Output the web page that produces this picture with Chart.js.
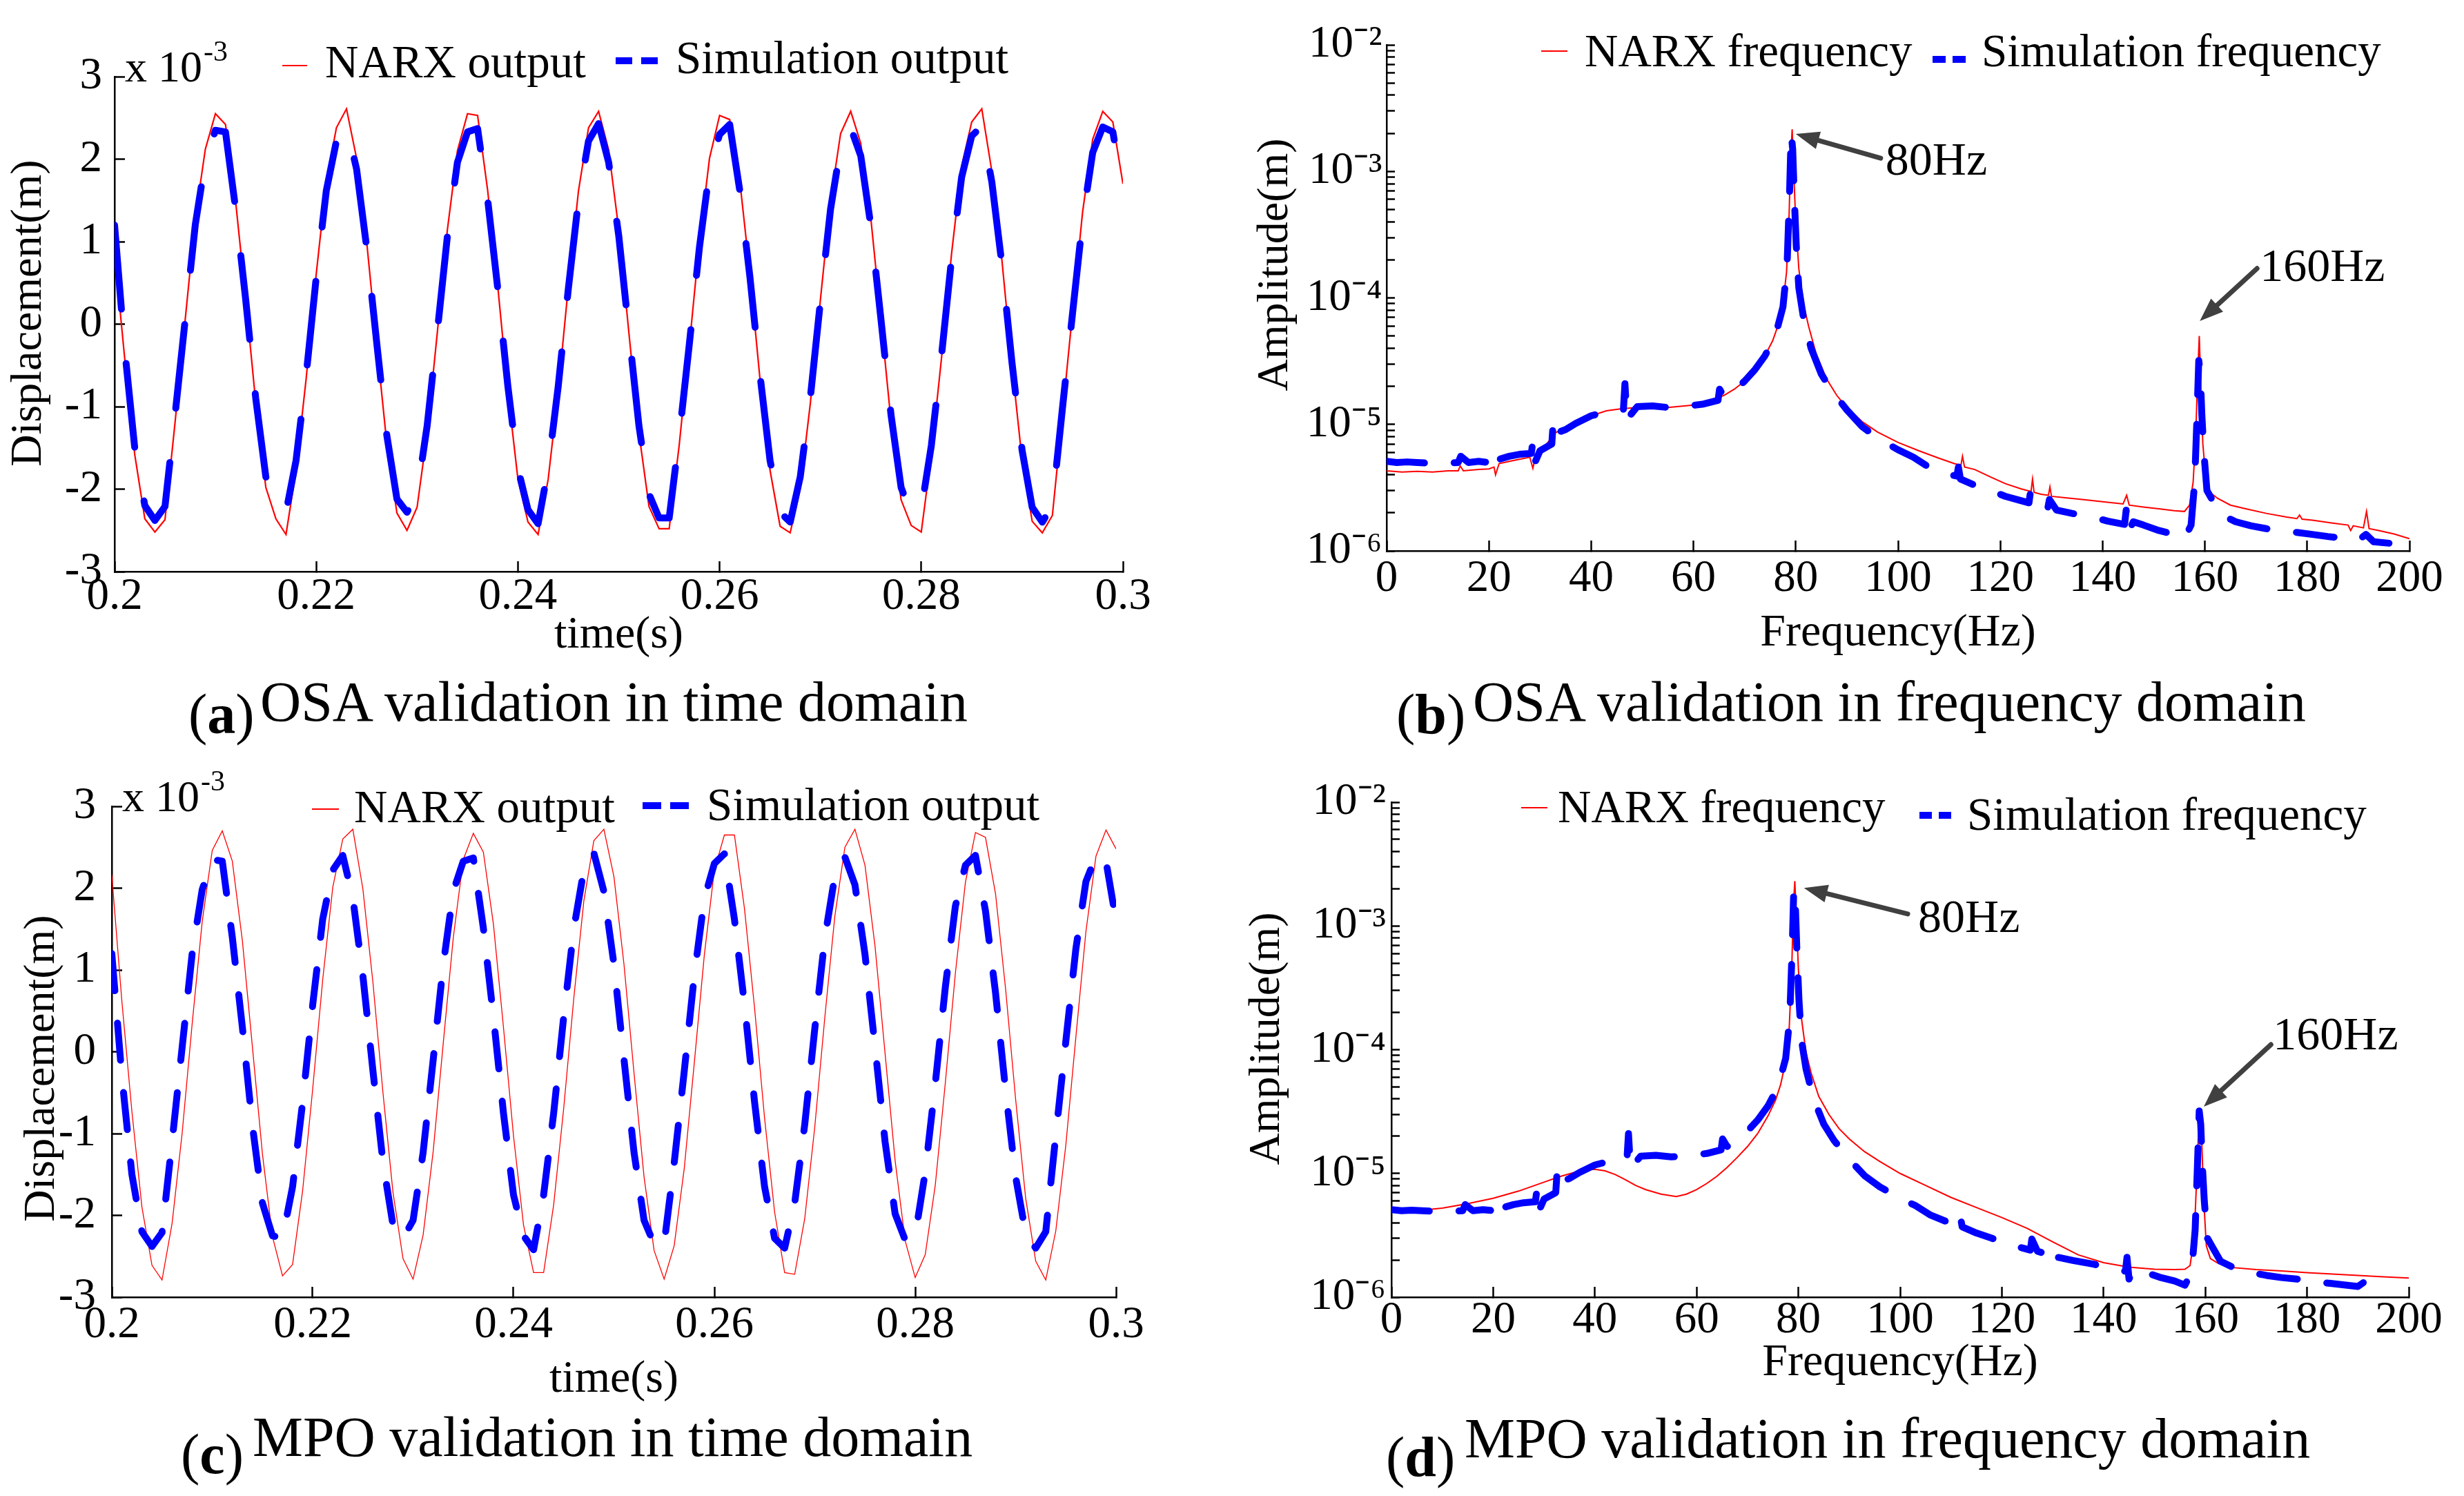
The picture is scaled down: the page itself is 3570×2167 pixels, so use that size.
<!DOCTYPE html>
<html lang="en">
<head>
<meta charset="utf-8">
<title>NARX model validation</title>
<script src="https://cdn.jsdelivr.net/npm/chart.js@4.4.1/dist/chart.umd.min.js"></script>
<style>
  html, body { margin: 0; padding: 0; background: #ffffff; }
  body { position: relative; width: 3570px; height: 2167px; overflow: hidden;
         font-family: "Liberation Serif", "Times New Roman", serif; color: #000; }
  canvas { position: absolute; }
  .cap { position: absolute; font-size: 82px; line-height: 82px; white-space: nowrap; }
</style>
</head>
<body>
<canvas id="chart-a" width="1785" height="980" style="left:0px;top:0px"></canvas>
<canvas id="chart-b" width="1785" height="980" style="left:1785px;top:0px"></canvas>
<canvas id="chart-c" width="1785" height="960" style="left:0px;top:1083px"></canvas>
<canvas id="chart-d" width="1785" height="960" style="left:1785px;top:1083px"></canvas>

<div class="cap" style="left:273px;top:994px">(<b>a</b>)</div>
<div class="cap" style="left:377px;top:976px">OSA validation in time domain</div>
<div class="cap" style="left:2023px;top:994px">(<b>b</b>)</div>
<div class="cap" style="left:2134px;top:976px">OSA validation in frequency domain</div>
<div class="cap" style="left:262px;top:2066px">(<b>c</b>)</div>
<div class="cap" style="left:366px;top:2041px">MPO validation in time domain</div>
<div class="cap" style="left:2008px;top:2070px">(<b>d</b>)</div>
<div class="cap" style="left:2122px;top:2043px">MPO validation in frequency domain</div>

<script>
// sample instants (s), one every millisecond
const sampleTimes = [
  0.200, 0.201, 0.202, 0.203, 0.204, 0.205, 0.206, 0.207, 0.208, 0.209,
  0.210, 0.211, 0.212, 0.213, 0.214, 0.215, 0.216, 0.217, 0.218, 0.219,
  0.220, 0.221, 0.222, 0.223, 0.224, 0.225, 0.226, 0.227, 0.228, 0.229,
  0.230, 0.231, 0.232, 0.233, 0.234, 0.235, 0.236, 0.237, 0.238, 0.239,
  0.240, 0.241, 0.242, 0.243, 0.244, 0.245, 0.246, 0.247, 0.248, 0.249,
  0.250, 0.251, 0.252, 0.253, 0.254, 0.255, 0.256, 0.257, 0.258, 0.259,
  0.260, 0.261, 0.262, 0.263, 0.264, 0.265, 0.266, 0.267, 0.268, 0.269,
  0.270, 0.271, 0.272, 0.273, 0.274, 0.275, 0.276, 0.277, 0.278, 0.279,
  0.280, 0.281, 0.282, 0.283, 0.284, 0.285, 0.286, 0.287, 0.288, 0.289,
  0.290, 0.291, 0.292, 0.293, 0.294, 0.295, 0.296, 0.297, 0.298, 0.299,
  0.300
];

// displacements, in units of 1e-3 m
const narxOsaOutput = [
  0.86, -0.41, -1.58, -2.36, -2.52, -2.37, -1.19, 0.05, 1.28, 2.12,
  2.55, 2.42, 1.49, 0.31, -0.95, -1.98, -2.36, -2.55, -1.77, -0.66,
  0.61, 1.73, 2.38, 2.61, 2.01, 1.00, -0.25, -1.45, -2.29, -2.50,
  -2.22, -1.32, -0.11, 1.14, 2.10, 2.55, 2.53, 1.62, 0.46, -0.81,
  -1.88, -2.40, -2.55, -1.88, -0.81, 0.46, 1.61, 2.38, 2.58, 2.11,
  1.15, -0.10, -1.32, -2.21, -2.48, -2.48, -1.46, -0.26, 1.00, 2.01,
  2.53, 2.48, 1.74, 0.62, -0.66, -1.77, -2.45, -2.53, -1.99, -0.96,
  0.30, 1.49, 2.31, 2.58, 2.19, 1.28, 0.06, -1.18, -2.13, -2.44,
  -2.52, -1.58, -0.42, 0.85, 1.91, 2.45, 2.61, 1.85, 0.77, -0.50,
  -1.65, -2.39, -2.53, -2.32, -1.10, 0.14, 1.36, 2.24, 2.58, 2.45,
  1.70
];
const narxMpoOutput = [
  2.16, 0.62, -0.73, -1.90, -2.61, -2.79, -2.10, -1.00, 0.34, 1.59,
  2.46, 2.70, 2.33, 1.36, 0.06, -1.25, -2.26, -2.74, -2.60, -1.70,
  -0.46, 0.88, 2.01, 2.60, 2.72, 1.99, 0.85, -0.50, -1.72, -2.53,
  -2.78, -2.24, -1.22, 0.10, 1.39, 2.35, 2.67, 2.44, 1.56, 0.30,
  -1.03, -2.12, -2.70, -2.70, -1.87, -0.69, 0.65, 1.84, 2.58, 2.72,
  2.14, 1.07, -0.26, -1.53, -2.43, -2.78, -2.37, -1.43, -0.14, 1.18,
  2.22, 2.65, 2.65, 1.75, 0.54, -0.81, -1.96, -2.70, -2.72, -2.04,
  -0.92, 0.42, 1.66, 2.50, 2.72, 2.28, 1.29, -0.02, -1.33, -2.31,
  -2.76, -2.48, -1.63, -0.38, 0.96, 2.07, 2.68, 2.62, 1.93, 0.77,
  -0.58, -1.79, -2.56, -2.79, -2.19, -1.14, 0.18, 1.47, 2.39, 2.71,
  2.48
];
const simulationOutput = [
  1.20, -0.30, -1.50, -2.20, -2.38, -2.21, -1.10, 0.05, 1.20, 1.98,
  2.35, 2.33, 1.40, 0.30, -0.90, -1.85, -2.25, -2.28, -1.65, -0.62,
  0.57, 1.62, 2.22, 2.40, 1.88, 0.93, -0.23, -1.35, -2.12, -2.28,
  -2.06, -1.23, -0.10, 1.06, 1.96, 2.33, 2.37, 1.51, 0.43, -0.75,
  -1.75, -2.25, -2.42, -1.75, -0.75, 0.43, 1.50, 2.22, 2.43, 1.96,
  1.07, -0.09, -1.23, -2.06, -2.35, -2.35, -1.36, -0.24, 0.93, 1.87,
  2.30, 2.42, 1.62, 0.58, -0.61, -1.65, -2.28, -2.40, -1.85, -0.89,
  0.28, 1.39, 2.15, 2.38, 2.04, 1.19, 0.06, -1.10, -1.98, -2.30,
  -2.25, -1.47, -0.39, 0.79, 1.78, 2.28, 2.40, 1.72, 0.72, -0.47,
  -1.53, -2.22, -2.40, -2.20, -1.02, 0.13, 1.26, 2.08, 2.39, 2.33,
  1.60
];

// spectra: frequency (Hz) and amplitude (m)
const simFreqHz = [
  0, 2, 4, 6, 8, 10, 12, 14, 14.5, 16, 18, 20, 21, 21.5, 22, 24, 26, 28.3, 28.6, 29,
  30, 32.3, 32.6, 33, 35, 37, 40, 43, 46.3, 46.6, 47, 49, 52, 55, 58, 62, 64.8, 65.1, 66, 68,
  70, 72, 74, 76, 77.5, 78.3, 78.8, 79.1, 79.4, 79.7, 80.1, 80.6, 81.5, 83, 85, 87, 90, 93, 96, 100,
  103, 106, 109, 111.5, 111.8, 112.2, 115, 118, 121, 124, 125.6, 125.9, 127, 129.3, 129.6, 131, 134, 138, 141, 144.3,
  144.6, 145, 146, 148, 151, 154, 156, 157.3, 158, 158.4, 158.8, 159.1, 159.4, 159.8, 160.4, 161.5, 163, 166, 169, 172,
  175, 178, 181, 184, 187, 190, 191.5, 193, 196
];
const simFreqAmp = [
  5.1e-6, 5.0e-6, 5.05e-6, 5.0e-6, 4.95e-6, 4.9e-6, 4.95e-6, 5.0e-6, 5.6e-6, 5.0e-6,
  5.1e-6, 5.0e-6, 5.6e-6, 4.7e-6, 5.3e-6, 5.6e-6, 5.8e-6, 5.9e-6, 7.4e-6, 5.0e-6,
  6.2e-6, 7.0e-6, 1.08e-5, 8.5e-6, 9.1e-6, 1.02e-5, 1.17e-5, 1.26e-5, 1.3e-5, 2.1e-5,
  1.1e-5, 1.38e-5, 1.4e-5, 1.36e-5, 1.38e-5, 1.45e-5, 1.55e-5, 1.9e-5, 1.65e-5, 1.85e-5,
  2.2e-5, 2.7e-5, 3.5e-5, 5.0e-5, 8.5e-5, 1.8e-4, 7.0e-4, 2.0e-3, 1.5e-3, 6.5e-4,
  2.6e-4, 1.2e-4, 7.0e-5, 4.0e-5, 2.5e-5, 1.85e-5, 1.3e-5, 9.6e-6, 7.8e-6, 6.3e-6,
  5.5e-6, 4.6e-6, 4.1e-6, 3.9e-6, 4.6e-6, 3.7e-6, 3.3e-6, 3.0e-6, 2.7e-6, 2.5e-6,
  2.4e-6, 2.95e-6, 2.35e-6, 2.2e-6, 2.55e-6, 2.1e-6, 1.98e-6, 1.85e-6, 1.72e-6, 1.62e-6,
  2.1e-6, 1.4e-6, 1.7e-6, 1.6e-6, 1.45e-6, 1.35e-6, 1.25e-6, 1.6e-6, 3.5e-6, 1.0e-5,
  3.2e-5, 2.5e-5, 1.2e-5, 6.0e-6, 3.0e-6, 2.5e-6, 1.95e-6, 1.7e-6, 1.58e-6, 1.5e-6,
  1.44e-6, 1.4e-6, 1.35e-6, 1.3e-6, 1.26e-6, 1.22e-6, 1.35e-6, 1.18e-6, 1.15e-6
];
const narxOsaFreqHz = [
  0, 3, 6, 9, 12, 14, 14.4, 15, 18, 20, 21, 21.3, 22, 24, 26, 28, 28.6, 29.2, 30, 31,
  32, 33, 35, 37, 40, 43, 46, 50, 55, 60, 63, 66, 68, 70, 72, 74, 75.5, 76.5, 77.5, 78.2,
  78.7, 79.0, 79.3, 79.6, 80.0, 80.6, 81.5, 82.5, 84, 86, 88, 90, 93, 96, 100, 104, 108, 111, 112.3, 112.6,
  113, 115, 118, 121, 124, 126, 126.3, 126.6, 128, 129.4, 129.7, 130, 133, 136, 140, 144, 144.7, 145.2, 148, 151,
  154, 156, 157, 157.7, 158.2, 158.6, 158.9, 159.2, 159.6, 160.2, 161, 162.5, 165, 168, 172, 176, 178, 178.5, 179, 181,
  185, 188, 188.5, 189, 191, 191.6, 192.1, 194, 197, 200
];
const narxOsaFreqAmp = [
  4.3e-6, 4.2e-6, 4.25e-6, 4.2e-6, 4.3e-6, 4.3e-6, 4.7e-6, 4.3e-6, 4.4e-6, 4.45e-6,
  4.6e-6, 4.0e-6, 4.9e-6, 5.1e-6, 5.3e-6, 5.5e-6, 4.5e-6, 5.8e-6, 6.4e-6, 6.8e-6,
  7.6e-6, 8.6e-6, 9.4e-6, 1.03e-5, 1.17e-5, 1.28e-5, 1.33e-5, 1.37e-5, 1.36e-5, 1.42e-5,
  1.52e-5, 1.7e-5, 1.9e-5, 2.2e-5, 2.7e-5, 3.5e-5, 4.6e-5, 6.0e-5, 9.0e-5, 1.6e-4,
  4.5e-4, 1.3e-3, 2.15e-3, 1.0e-3, 4.0e-4, 1.7e-4, 9.0e-5, 6.0e-5, 3.6e-5, 2.3e-5,
  1.7e-5, 1.35e-5, 1.05e-5, 8.7e-6, 7.2e-6, 6.2e-6, 5.4e-6, 4.9e-6, 4.75e-6, 5.6e-6,
  4.6e-6, 4.4e-6, 3.85e-6, 3.4e-6, 3.1e-6, 2.95e-6, 3.7e-6, 2.9e-6, 2.8e-6, 2.75e-6,
  3.2e-6, 2.7e-6, 2.62e-6, 2.55e-6, 2.45e-6, 2.35e-6, 2.75e-6, 2.3e-6, 2.22e-6, 2.15e-6,
  2.08e-6, 2.05e-6, 2.3e-6, 3.5e-6, 8.0e-6, 2.5e-5, 5.0e-5, 2.0e-5, 7.0e-6, 3.6e-6,
  2.9e-6, 2.6e-6, 2.3e-6, 2.15e-6, 1.98e-6, 1.85e-6, 1.8e-6, 1.92e-6, 1.78e-6, 1.75e-6,
  1.66e-6, 1.6e-6, 1.45e-6, 1.58e-6, 1.52e-6, 2.05e-6, 1.5e-6, 1.45e-6, 1.36e-6, 1.25e-6
];
const narxMpoFreqHz = [
  0, 5, 10, 15, 20, 25, 30, 33, 36, 38, 40, 42, 44, 46, 48, 50, 53, 56, 58, 60,
  62, 64, 66, 68, 70, 72, 74, 75.5, 76.5, 77.5, 78.2, 78.7, 79.0, 79.3, 79.6, 80.0, 80.6, 81.5, 82.5, 84,
  86, 88, 90, 93, 96, 100, 105, 110, 115, 120, 125, 130, 135, 140, 145, 150, 154, 156, 157, 157.8,
  158.3, 158.7, 159.0, 159.3, 159.7, 160.2, 161, 162.5, 165, 170, 175, 180, 185, 190, 195, 200
];
const narxMpoFreqAmp = [
  4.9e-6, 5.0e-6, 5.25e-6, 5.7e-6, 6.3e-6, 7.2e-6, 8.5e-6, 9.4e-6, 1.02e-5, 1.07e-5,
  1.08e-5, 1.05e-5, 9.8e-6, 8.9e-6, 8.0e-6, 7.4e-6, 6.8e-6, 6.5e-6, 6.8e-6, 7.4e-6,
  8.3e-6, 9.5e-6, 1.12e-5, 1.35e-5, 1.65e-5, 2.1e-5, 2.9e-5, 3.9e-5, 5.2e-5, 8.0e-5,
  1.5e-4, 4.5e-4, 1.4e-3, 2.3e-3, 1.2e-3, 4.5e-4, 1.8e-4, 9.5e-5, 6.5e-5, 4.2e-5,
  3.0e-5, 2.3e-5, 1.9e-5, 1.5e-5, 1.25e-5, 1.0e-5, 8.0e-6, 6.4e-6, 5.3e-6, 4.4e-6,
  3.6e-6, 2.8e-6, 2.2e-6, 1.9e-6, 1.75e-6, 1.68e-6, 1.67e-6, 1.68e-6, 1.8e-6, 3.0e-6,
  9.0e-6, 2.4e-5, 3.2e-5, 1.8e-5, 6.0e-6, 2.6e-6, 2.05e-6, 1.88e-6, 1.74e-6, 1.67e-6,
  1.63e-6, 1.58e-6, 1.54e-6, 1.5e-6, 1.46e-6, 1.43e-6
];

// axis ticks
const timeTicks = [0.2, 0.22, 0.24, 0.26, 0.28, 0.3];
const dispTicks = [-3, -2, -1, 0, 1, 2, 3];
const freqTicks = [0, 20, 40, 60, 80, 100, 120, 140, 160, 180, 200];
const ampDecades = [1e-6, 1e-5, 1e-4, 1e-3, 1e-2];
const ampDecadeLabels = ['10\u207B\u2076', '10\u207B\u2075', '10\u207B\u2074', '10\u207B\u00B3', '10\u207B\u00B2'];

const SERIF = '"Liberation Serif", "Times New Roman", serif';
const RED = '#ff0000';
const BLUE = '#0000ff';

const toPoints = (xs, ys) => xs.map((x, i) => ({ x: x, y: ys[i] }));

// decade marks plus the 2..9 marks between them
function ampTicks() {
  const out = [];
  ampDecades.forEach((d, i) => {
    out.push({ value: d });
    if (i < ampDecades.length - 1) {
      for (let m = 2; m <= 9; m++) out.push({ value: d * m });
    }
  });
  return out;
}

function ampLabel(v) {
  const i = ampDecades.findIndex(d => Math.abs(v / d - 1) < 1e-6);
  return i < 0 ? '' : ampDecadeLabels[i];
}

function drawArrow(ctx, x0, y0, x1, y1) {
  const ang = Math.atan2(y1 - y0, x1 - x0);
  const head = 34, half = 13;
  const bx = x1 - head * Math.cos(ang), by = y1 - head * Math.sin(ang);
  ctx.strokeStyle = '#404040';
  ctx.fillStyle = '#404040';
  ctx.lineWidth = 7;
  ctx.lineCap = 'round';
  ctx.beginPath();
  ctx.moveTo(x0, y0);
  ctx.lineTo(bx, by);
  ctx.stroke();
  ctx.beginPath();
  ctx.moveTo(x1, y1);
  ctx.lineTo(bx + half * Math.sin(ang), by - half * Math.cos(ang));
  ctx.lineTo(bx - half * Math.sin(ang), by + half * Math.cos(ang));
  ctx.closePath();
  ctx.fill();
}

// legend lines, the "x 10^-3" multiplier and the peak arrows
function decor(spec) {
  return {
    id: 'decor',
    afterDraw(chart) {
      const ctx = chart.ctx;
      const area = chart.chartArea;
      ctx.save();
      spec.legend.forEach(item => {
        const ds = chart.data.datasets[item.dataset];
        ctx.beginPath();
        ctx.strokeStyle = ds.borderColor;
        ctx.lineWidth = Math.max(ds.borderWidth, 2);
        ctx.lineCap = 'butt';
        ctx.setLineDash(item.dash || []);
        ctx.moveTo(item.x0, item.y);
        ctx.lineTo(item.x1, item.y);
        ctx.stroke();
        ctx.setLineDash([]);
        ctx.fillStyle = '#000';
        ctx.font = '67px ' + SERIF;
        ctx.textAlign = 'left';
        ctx.textBaseline = 'alphabetic';
        ctx.fillText(ds.label, item.tx, item.ty);
      });
      if (spec.multiplier) {
        const x = area.left + 15, y = area.top + 7;
        ctx.fillStyle = '#000';
        ctx.textAlign = 'left';
        ctx.textBaseline = 'alphabetic';
        ctx.font = '64px ' + SERIF;
        ctx.fillText('x 10', x, y);
        const w = ctx.measureText('x 10').width;
        ctx.font = '42px ' + SERIF;
        ctx.fillText(spec.multiplier, x + w + 2, y - 30);
      }
      (spec.arrows || []).forEach(a => {
        const xs = chart.scales.x, ys = chart.scales.y;
        const tipX = xs.getPixelForValue(a.tip[0]), tipY = ys.getPixelForValue(a.tip[1]);
        const tailX = xs.getPixelForValue(a.tail[0]), tailY = ys.getPixelForValue(a.tail[1]);
        drawArrow(ctx, tailX, tailY, tipX, tipY);
        ctx.fillStyle = '#000';
        ctx.textAlign = 'left';
        ctx.textBaseline = 'alphabetic';
        ctx.font = '68px ' + SERIF;
        ctx.fillText(a.text, tailX + a.dx, tailY + a.dy);
      });
      ctx.restore();
    }
  };
}

function buildChart(id, kind, datasets, spec) {
  const isTime = kind === 'time';
  const yAxis = isTime ? {
    type: 'linear',
    min: -3,
    max: 3,
    afterBuildTicks: s => { s.ticks = dispTicks.map(v => ({ value: v })); },
    ticks: { callback: v => String(v) }
  } : {
    type: 'logarithmic',
    min: 1e-6,
    max: 1e-2,
    afterBuildTicks: s => { s.ticks = ampTicks(); },
    ticks: { callback: v => ampLabel(v) }
  };
  const yTick = isTime ? -15 : -12;
  Object.assign(yAxis, {
    afterFit: s => { s.width = spec.yWidth; },
    grid: { drawOnChartArea: false, drawTicks: true, tickLength: yTick, tickWidth: 2.5, tickColor: '#000' },
    border: { display: true, color: '#000', width: 2.5 },
    title: {
      display: true,
      text: spec.yTitle,
      color: '#000',
      font: { family: SERIF, size: 64 },
      padding: { top: spec.yTitlePad, bottom: 0 }
    }
  });
  Object.assign(yAxis.ticks, {
    autoSkip: false,
    padding: spec.yPad,
    color: '#000',
    font: { family: SERIF, size: 65 }
  });

  return new Chart(document.getElementById(id), {
    type: 'line',
    data: { datasets: datasets },
    options: {
      responsive: false,
      animation: false,
      devicePixelRatio: 1,
      events: [],
      layout: { padding: { left: 0, top: spec.top, right: spec.right, bottom: 0 } },
      elements: { point: { radius: 0 }, line: { tension: 0 } },
      plugins: { legend: { display: false }, tooltip: { enabled: false } },
      scales: {
        x: {
          type: 'linear',
          min: isTime ? 0.2 : 0,
          max: isTime ? 0.3 : 200,
          afterBuildTicks: s => { s.ticks = (isTime ? timeTicks : freqTicks).map(v => ({ value: v })); },
          afterFit: s => { s.height = spec.xHeight; },
          grid: { drawOnChartArea: false, drawTicks: true, tickLength: -15, tickWidth: 2.5, tickColor: '#000' },
          border: { display: true, color: '#000', width: 2.5 },
          ticks: {
            autoSkip: false,
            maxRotation: 0,
            padding: spec.xPad,
            color: '#000',
            font: { family: SERIF, size: 65 },
            callback: v => String(+v.toFixed(2))
          },
          title: {
            display: true,
            text: isTime ? 'time(s)' : 'Frequency(Hz)',
            color: '#000',
            font: { family: SERIF, size: 66 },
            padding: { top: 0, bottom: spec.xTitlePad }
          }
        },
        y: yAxis
      }
    },
    plugins: [decor(spec)]
  });
}

function timeSets(narx, redWidth, dash) {
  return [
    { label: 'NARX output', data: toPoints(sampleTimes, narx), borderColor: RED, borderWidth: redWidth, order: 2 },
    { label: 'Simulation output', data: toPoints(sampleTimes, simulationOutput), borderColor: BLUE, borderWidth: 10,
      borderDash: dash, borderCapStyle: 'round', borderJoinStyle: 'round', order: 1 }
  ];
}

function freqSets(hz, amp) {
  return [
    { label: 'NARX frequency', data: toPoints(hz, amp), borderColor: RED, borderWidth: 2, order: 2 },
    { label: 'Simulation frequency', data: toPoints(simFreqHz, simFreqAmp), borderColor: BLUE, borderWidth: 10,
      borderDash: [55, 43], borderCapStyle: 'round', borderJoinStyle: 'round', order: 1 }
  ];
}

// (a) OSA, time domain
buildChart('chart-a', 'time', timeSets(narxOsaOutput, 2.2, [122, 79]), {
  top: 111, right: 158, xHeight: 152, yWidth: 166,
  xPad: 12.5, xTitlePad: 20, yPad: 33, yTitlePad: 4, yTitle: '  Displacement(m)',
  multiplier: '-3',
  legend: [
    { dataset: 0, x0: 409, x1: 445, y: 95, tx: 471, ty: 112 },
    { dataset: 1, x0: 892, x1: 953, y: 88, tx: 979, ty: 106, dash: [24, 13] }
  ]
});

// (b) OSA, frequency domain
buildChart('chart-b', 'freq', freqSets(narxOsaFreqHz, narxOsaFreqAmp), {
  top: 65, right: 79, xHeight: 182, yWidth: 224,
  xPad: 16.5, xTitlePad: 23, yPad: 18.5, yTitlePad: 25, yTitle: '      Amplitude(m)',
  legend: [
    { dataset: 0, x0: 448, x1: 486, y: 74, tx: 511, ty: 96 },
    { dataset: 1, x0: 1015, x1: 1063, y: 86, tx: 1086, ty: 96, dash: [19, 10] }
  ],
  arrows: [
    { text: '80Hz', tip: [80.0, 1.98e-3], tail: [96.6, 1.27e-3], dx: 7, dy: 24 },
    { text: '160Hz', tip: [159.0, 6.56e-5], tail: [170.2, 1.71e-4], dx: 4, dy: 18 }
  ]
});

// (c) MPO, time domain
buildChart('chart-c', 'time', timeSets(narxMpoOutput, 1.3, [54, 47]), {
  top: 85, right: 168, xHeight: 164, yWidth: 162,
  xPad: 16.5, xTitlePad: 5, yPad: 38, yTitlePad: 22.6, yTitle: 'Displacement(m)   ',
  multiplier: '-3',
  legend: [
    { dataset: 0, x0: 452, x1: 491, y: 89, tx: 513, ty: 108 },
    { dataset: 1, x0: 931, x1: 998, y: 84, tx: 1024, ty: 105, dash: [27, 13] }
  ]
});

// (d) MPO, frequency domain
buildChart('chart-d', 'freq', freqSets(narxMpoFreqHz, narxMpoFreqAmp), {
  top: 79, right: 80, xHeight: 164, yWidth: 231,
  xPad: 9.5, xTitlePad: 29, yPad: 20, yTitlePad: 12.6, yTitle: '  Amplitude(m)',
  legend: [
    { dataset: 0, x0: 419, x1: 457, y: 87, tx: 472, ty: 108 },
    { dataset: 1, x0: 996, x1: 1042, y: 98, tx: 1065, ty: 119, dash: [18, 10] }
  ],
  arrows: [
    { text: '80Hz', tip: [81.1, 2.03e-3], tail: [101.5, 1.25e-3], dx: 15, dy: 26 },
    { text: '160Hz', tip: [159.7, 3.47e-5], tail: [172.9, 1.10e-4], dx: 3, dy: 7 }
  ]
});
</script>
</body>
</html>
